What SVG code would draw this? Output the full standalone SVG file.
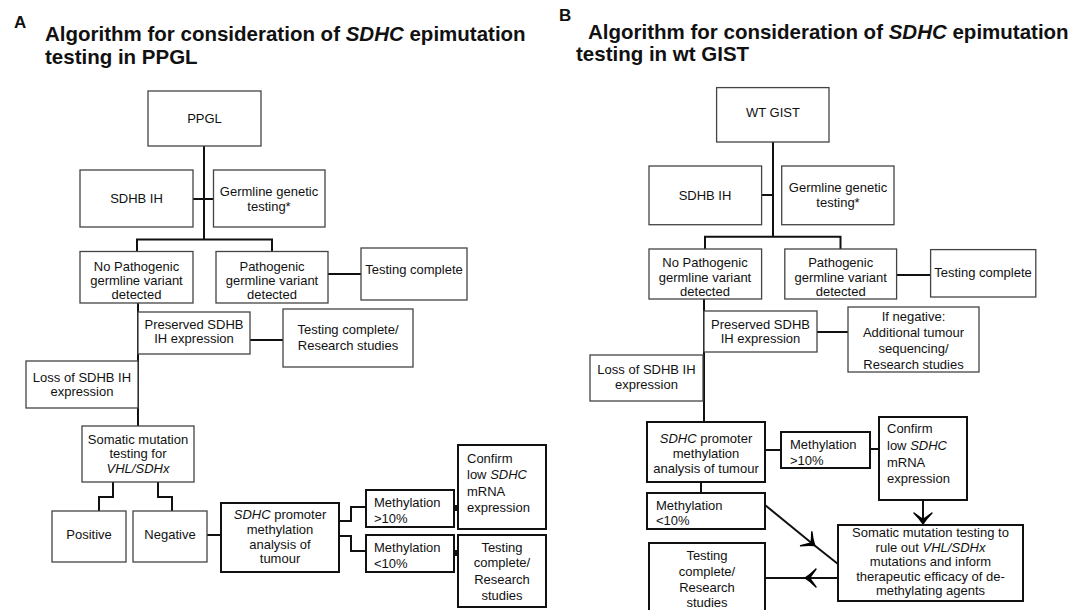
<svg xmlns="http://www.w3.org/2000/svg" width="1083" height="610" viewBox="0 0 1083 610">
<style>
  text { font-family: "Liberation Sans", Arial, sans-serif; fill: #111; }
  .t { font-size: 13px; text-anchor: middle; }
  .l { font-size: 13px; text-anchor: start; }
  .ttl { font-size: 20.5px; font-weight: bold; }
  .lab { font-size: 17px; font-weight: bold; }
  .bx { fill: #fff; stroke: #444; stroke-width: 1.3; }
  .bk { fill: #fff; stroke: #111; stroke-width: 2; }
  .c { fill: none; stroke: #111; stroke-width: 2; }
  .i { font-style: italic; }
</style>
<defs>
  <marker id="chev" markerUnits="userSpaceOnUse" viewBox="-14 -12 17 24" refX="0" refY="0" markerWidth="17" markerHeight="24" orient="auto" overflow="visible">
    <path d="M1,0 Q-4,-3 -10,-9 Q-6,-3.5 -3.5,0 Q-6,3.5 -10,9 Q-4,3 1,0 Z" fill="#000" stroke="#000" stroke-width="1.4" stroke-linejoin="round"/>
  </marker>
</defs>
<rect width="1083" height="610" fill="#fff"/>

<g id="titles">
  <text class="lab" x="14" y="27.5">A</text>
  <text class="ttl" x="45" y="41">Algorithm for consideration of <tspan font-style="italic">SDHC</tspan> epimutation</text>
  <text class="ttl" x="45" y="64">testing in PPGL</text>
  <text class="lab" x="559" y="21">B</text>
  <text class="ttl" x="588" y="39">Algorithm for consideration of <tspan font-style="italic">SDHC</tspan> epimutation</text>
  <text class="ttl" x="576" y="61">testing in wt GIST</text>
</g>

<g id="connectors">
  <!-- Panel A -->
  <path class="c" d="M204,146 V239.5 M137,251.5 V239.5 H272 V251.5 M193,199 H213"/>
  <path class="c" d="M328,274 H361"/>
  <path class="c" d="M138,303 V426"/>
  <path class="c" d="M250,340 H283"/>
  <path class="c" d="M113,482 V497 H99 V511 M158,482 V497 H172 V511"/>
  <path class="c" d="M207,535 H221"/>
  <path class="c" d="M339,521 H351 V507 H366 M339,536 H351 V551 H366"/>
  <path class="c" d="M453,508 H460 M456,505 V511 M453,553 H460 M456,550 V556"/>
  <!-- Panel B -->
  <path class="c" d="M773,142 V236.8 M705,249 V236.8 H840.5 V249 M761.6,195 H773"/>
  <path class="c" d="M896.6,275 H930.6"/>
  <path class="c" d="M704,299 V423"/>
  <path class="c" d="M817,332 H848"/>
  <path class="c" d="M765,450 H781 M870,449 H879"/>
  <path class="c" d="M701,482 V493"/>
  <path class="c" d="M923,500 V523" marker-end="url(#chev)"/>
  <path class="c" d="M765,505 L814,545 L838,564" marker-mid="url(#chev)"/>
  <path class="c" d="M838,578 L806,578 L765,578" marker-mid="url(#chev)"/>
</g>

<!-- Panel A nodes -->
<g id="a-ppgl"><rect class="bx" x="148" y="91" width="113" height="55"/><text class="t" x="204.5" y="123">PPGL</text></g>
<g id="a-sdhb"><rect class="bx" x="80" y="170" width="113" height="57"/><text class="t" x="136.5" y="203">SDHB IH</text></g>
<g id="a-germ"><rect class="bx" x="213.5" y="170" width="111.5" height="57"/><text class="t" x="269" y="196">Germline genetic</text><text class="t" x="269" y="211">testing*</text></g>
<g id="a-nopath"><rect class="bx" x="80" y="251.5" width="113" height="51.5"/><text class="t" x="136.5" y="271">No Pathogenic</text><text class="t" x="136.5" y="285">germline variant</text><text class="t" x="136.5" y="299">detected</text></g>
<g id="a-path"><rect class="bx" x="216" y="251.5" width="112" height="51.5"/><text class="t" x="272" y="271">Pathogenic</text><text class="t" x="272" y="285">germline variant</text><text class="t" x="272" y="299">detected</text></g>
<g id="a-tc1"><rect class="bx" x="361" y="248" width="106" height="52"/><text class="t" x="414" y="273.5">Testing complete</text></g>
<g id="a-pres"><rect class="bx" x="138" y="312" width="112" height="42"/><text class="t" x="194" y="329">Preserved SDHB</text><text class="t" x="194" y="343">IH expression</text></g>
<g id="a-tcrs"><rect class="bx" x="283" y="309" width="130" height="58"/><text class="t" x="348" y="334">Testing complete/</text><text class="t" x="348" y="350">Research studies</text></g>
<g id="a-loss"><rect class="bx" x="26" y="361" width="112" height="47"/><text class="t" x="82" y="382">Loss of SDHB IH</text><text class="t" x="82" y="396">expression</text></g>
<g id="a-som"><rect class="bx" x="82" y="426" width="112" height="56"/><text class="t" x="138" y="444">Somatic mutation</text><text class="t" x="138" y="458">testing for</text><text class="t i" x="138" y="473">VHL/SDHx</text></g>
<g id="a-pos"><rect class="bx" x="52" y="511" width="74" height="51"/><text class="t" x="89" y="539">Positive</text></g>
<g id="a-neg"><rect class="bx" x="133" y="511" width="74" height="51"/><text class="t" x="170" y="539">Negative</text></g>
<g id="a-prom"><rect class="bk" x="221" y="503" width="118" height="69"/><text class="t" x="280" y="519"><tspan font-style="italic">SDHC</tspan> promoter</text><text class="t" x="280" y="534">methylation</text><text class="t" x="280" y="549">analysis of</text><text class="t" x="280" y="563">tumour</text></g>
<g id="a-mhi"><rect class="bk" x="366" y="490" width="88" height="37"/><text class="l" x="374" y="507">Methylation</text><text class="l" x="374" y="523">&gt;10%</text></g>
<g id="a-mlo"><rect class="bk" x="366" y="535" width="88" height="37"/><text class="l" x="374" y="552">Methylation</text><text class="l" x="374" y="568">&lt;10%</text></g>
<g id="a-conf"><rect class="bk" x="458" y="445" width="88" height="84"/><text class="l" x="467" y="463">Confirm</text><text class="l" x="467" y="479">low <tspan font-style="italic">SDHC</tspan></text><text class="l" x="467" y="496">mRNA</text><text class="l" x="467" y="512">expression</text></g>
<g id="a-tcrs2"><rect class="bk" x="458" y="535" width="88" height="72"/><text class="t" x="502" y="552">Testing</text><text class="t" x="502" y="567">complete/</text><text class="t" x="502" y="584">Research</text><text class="t" x="502" y="600">studies</text></g>

<!-- Panel B nodes -->
<g id="b-gist"><rect class="bx" x="716.6" y="87.6" width="112.4" height="54.4"/><text class="t" x="773" y="117">WT GIST</text></g>
<g id="b-sdhb"><rect class="bx" x="649" y="166" width="112.6" height="58.7"/><text class="t" x="705" y="200">SDHB IH</text></g>
<g id="b-germ"><rect class="bx" x="781.7" y="166" width="112.3" height="58.7"/><text class="t" x="838" y="192">Germline genetic</text><text class="t" x="838" y="207">testing*</text></g>
<g id="b-nopath"><rect class="bx" x="649" y="249" width="112.6" height="50"/><text class="t" x="705" y="267">No Pathogenic</text><text class="t" x="705" y="282">germline variant</text><text class="t" x="705" y="296">detected</text></g>
<g id="b-path"><rect class="bx" x="784.8" y="249" width="111.8" height="50"/><text class="t" x="840.7" y="267">Pathogenic</text><text class="t" x="840.7" y="282">germline variant</text><text class="t" x="840.7" y="296">detected</text></g>
<g id="b-tc1"><rect class="bx" x="930.6" y="249.6" width="105.2" height="47.4"/><text class="t" x="983" y="276.6">Testing complete</text></g>
<g id="b-pres"><rect class="bx" x="704" y="311" width="113" height="41"/><text class="t" x="760.5" y="329">Preserved SDHB</text><text class="t" x="760.5" y="343">IH expression</text></g>
<g id="b-ifneg"><rect class="bx" x="848" y="307" width="131" height="65"/><text class="t" x="913.5" y="321">If negative:</text><text class="t" x="913.5" y="337">Additional tumour</text><text class="t" x="913.5" y="353">sequencing/</text><text class="t" x="913.5" y="369">Research studies</text></g>
<g id="b-loss"><rect class="bx" x="590" y="355" width="113" height="46"/><text class="t" x="646.5" y="374">Loss of SDHB IH</text><text class="t" x="646.5" y="389">expression</text></g>
<g id="b-prom"><rect class="bk" x="647" y="422" width="118" height="60"/><text class="t" x="706" y="443"><tspan font-style="italic">SDHC</tspan> promoter</text><text class="t" x="706" y="458">methylation</text><text class="t" x="706" y="473">analysis of tumour</text></g>
<g id="b-mhi"><rect class="bk" x="781" y="432" width="89" height="36"/><text class="l" x="790" y="449">Methylation</text><text class="l" x="790" y="465">&gt;10%</text></g>
<g id="b-conf"><rect class="bk" x="879" y="417" width="88" height="83"/><text class="l" x="887" y="433">Confirm</text><text class="l" x="887" y="450">low <tspan font-style="italic">SDHC</tspan></text><text class="l" x="887" y="467">mRNA</text><text class="l" x="887" y="483">expression</text></g>
<g id="b-mlo"><rect class="bk" x="647" y="493" width="118" height="36"/><text class="l" x="656" y="510">Methylation</text><text class="l" x="656" y="525">&lt;10%</text></g>
<g id="b-som"><rect class="bk" x="838" y="525" width="185" height="76"/><text class="t" x="930.5" y="537">Somatic mutation testing to</text><text class="t" x="930.5" y="552">rule out <tspan font-style="italic">VHL/SDHx</tspan></text><text class="t" x="930.5" y="566">mutations and  inform</text><text class="t" x="930.5" y="581">therapeutic efficacy of de-</text><text class="t" x="930.5" y="595">methylating agents</text></g>
<g id="b-tcrs"><rect class="bk" x="649" y="543" width="116" height="70"/><text class="t" x="707" y="560">Testing</text><text class="t" x="707" y="576">complete/</text><text class="t" x="707" y="592">Research</text><text class="t" x="707" y="607">studies</text></g>
</svg>
